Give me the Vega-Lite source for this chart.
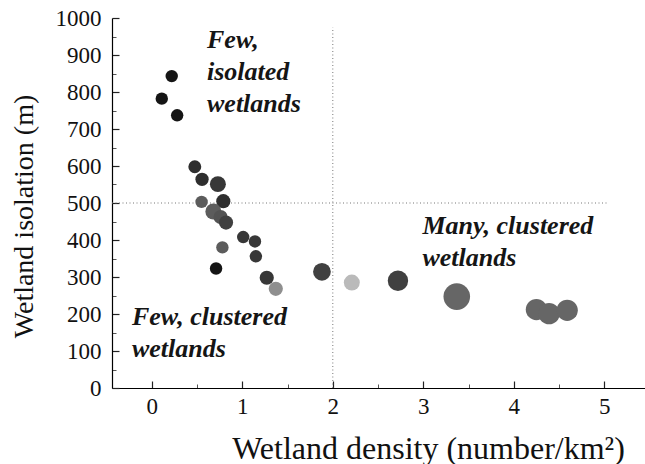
{
  "$schema": "https://vega.github.io/schema/vega-lite/v6.json",
  "width": 533,
  "height": 370,
  "autosize": {"type": "none"},
  "padding": {"left": 112, "top": 18, "right": 0, "bottom": 76},
  "background": "white",
  "config": {
    "view": {"stroke": null},
    "font": "Liberation Serif",
    "axis": {
      "grid": false,
      "domainColor": "#000000",
      "domainWidth": 1.2,
      "ticks": true,
      "tickColor": "#222222",
      "tickWidth": 1.2,
      "labelColor": "#111111",
      "titleColor": "#111111",
      "labelFont": "Liberation Serif",
      "titleFont": "Liberation Serif",
      "labelFontSize": 23,
      "titleFontWeight": "normal"
    }
  },
  "datasets": {
    "pts": [
      {"density": 0.22, "isolation": 843, "r": 7, "tone": 1.0},
      {"density": 0.11, "isolation": 782, "r": 7, "tone": 1.0},
      {"density": 0.28, "isolation": 737, "r": 7, "tone": 1.0},
      {"density": 0.475, "isolation": 598, "r": 7.3, "tone": 0.85},
      {"density": 0.555, "isolation": 564, "r": 7.5, "tone": 0.85},
      {"density": 0.73, "isolation": 551, "r": 9, "tone": 0.8},
      {"density": 0.55, "isolation": 503, "r": 7, "tone": 0.6},
      {"density": 0.79, "isolation": 505, "r": 8, "tone": 0.85},
      {"density": 0.68, "isolation": 477, "r": 9, "tone": 0.6},
      {"density": 0.76, "isolation": 462, "r": 8, "tone": 0.65},
      {"density": 0.82, "isolation": 447, "r": 8, "tone": 0.75},
      {"density": 1.01, "isolation": 408, "r": 7, "tone": 0.8},
      {"density": 1.14, "isolation": 396, "r": 7, "tone": 0.8},
      {"density": 0.78, "isolation": 380, "r": 7, "tone": 0.6},
      {"density": 1.15, "isolation": 356, "r": 7, "tone": 0.8},
      {"density": 0.71, "isolation": 323, "r": 7, "tone": 1.0},
      {"density": 1.27, "isolation": 298, "r": 8, "tone": 0.8},
      {"density": 1.37, "isolation": 268, "r": 8, "tone": 0.35},
      {"density": 1.88, "isolation": 314, "r": 10, "tone": 0.75},
      {"density": 2.21, "isolation": 285, "r": 9, "tone": 0.15},
      {"density": 2.72, "isolation": 290, "r": 11.5, "tone": 0.75},
      {"density": 3.37, "isolation": 247, "r": 15, "tone": 0.55},
      {"density": 4.25, "isolation": 212, "r": 12, "tone": 0.55},
      {"density": 4.39, "isolation": 201, "r": 12, "tone": 0.55},
      {"density": 4.59, "isolation": 210, "r": 12, "tone": 0.55}
    ],
    "refs": [
      {"x": 2, "x2": 2, "y": 0, "y2": 975},
      {"x": -0.44, "x2": 5.03, "y": 500, "y2": 500}
    ],
    "notes": [
      {"x": 0.61, "y": 919, "label": "Few,\nisolated\nwetlands"},
      {"x": 2.99, "y": 416, "label": "Many, clustered\nwetlands"},
      {"x": -0.22, "y": 170, "label": "Few, clustered\nwetlands"}
    ]
  },
  "resolve": {"axis": {"x": "independent", "y": "independent"}},
  "layer": [
    {
      "data": {"name": "refs"},
      "mark": {"type": "rule", "color": "#777777", "strokeWidth": 1, "strokeDash": [1, 2.5]},
      "encoding": {
        "x": {
          "field": "x", "type": "quantitative",
          "scale": {"domain": [-0.44, 5.45], "nice": false, "zero": false},
          "axis": {"orient": "bottom", "values": [0.5, 1.5, 2.5, 3.5, 4.5], "labels": false, "domain": false, "tickSize": -4, "title": null, "tickColor": "#555555", "tickWidth": 1}
        },
        "x2": {"field": "x2"},
        "y": {
          "field": "y", "type": "quantitative",
          "scale": {"domain": [0, 1000], "nice": false},
          "axis": {"orient": "left", "values": [50, 150, 250, 350, 450, 550, 650, 750, 850, 950], "labels": false, "domain": false, "tickSize": -4, "title": null, "tickColor": "#555555", "tickWidth": 1}
        },
        "y2": {"field": "y2"}
      }
    },
    {
      "data": {"name": "pts"},
      "mark": {"type": "circle", "opacity": 1, "strokeWidth": 0},
      "encoding": {
        "x": {
          "field": "density", "type": "quantitative",
          "scale": {"domain": [-0.44, 5.45], "nice": false, "zero": false},
          "axis": {
            "orient": "bottom",
            "values": [0, 1, 2, 3, 4, 5],
            "format": "d",
            "tickSize": -7,
            "labelPadding": 14,
            "title": "Wetland density (number/km²)",
            "titleFontSize": 32,
            "titleX": 316,
            "titleY": 60,
            "titleBaseline": "middle",
            "titleAnchor": null
          }
        },
        "y": {
          "field": "isolation", "type": "quantitative",
          "scale": {"domain": [0, 1000], "nice": false},
          "axis": {
            "orient": "left",
            "values": [0, 100, 200, 300, 400, 500, 600, 700, 800, 900, 1000],
            "tickSize": -7,
            "labelPadding": 18,
            "format": "d",
            "title": "Wetland isolation (m)",
            "titleFontSize": 28,
            "titleX": -88,
            "titleY": 198,
            "titleAngle": -90,
            "titleBaseline": "middle",
            "titleAlign": "center"
          }
        },
        "size": {"field": "r", "type": "quantitative", "scale": {"type": "pow", "exponent": 2, "domain": [0, 15], "range": [0, 707]}, "legend": null},
        "color": {"field": "tone", "type": "quantitative", "scale": {"domain": [0, 1], "range": ["#dcdcdc", "#151515"]}, "legend": null}
      }
    },
    {
      "data": {"name": "notes"},
      "mark": {"type": "text", "align": "left", "baseline": "alphabetic", "font": "Liberation Serif", "fontSize": 26, "fontWeight": "bold", "fontStyle": "italic", "lineBreak": "\n", "lineHeight": 32, "color": "#151515"},
      "encoding": {
        "x": {"field": "x", "type": "quantitative", "scale": {"domain": [-0.44, 5.45], "nice": false, "zero": false}, "axis": null},
        "y": {"field": "y", "type": "quantitative", "scale": {"domain": [0, 1000], "nice": false}, "axis": null},
        "text": {"field": "label"}
      }
    }
  ]
}
